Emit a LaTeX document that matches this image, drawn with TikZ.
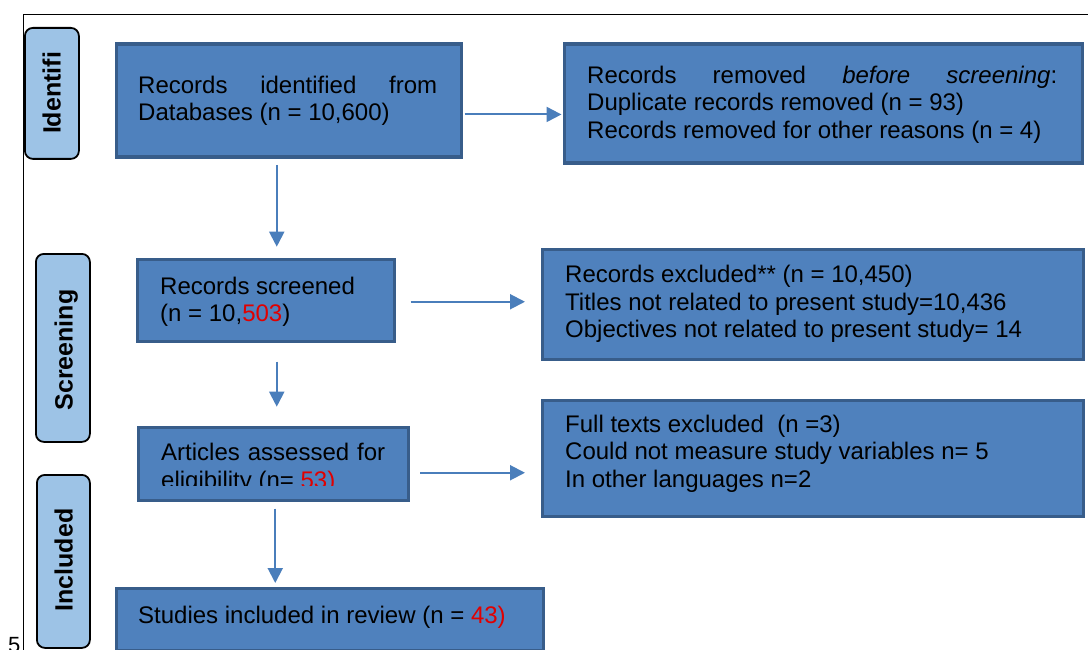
\documentclass[tikz,border=0pt]{standalone}
\usepackage{fontspec}
\setmainfont{Liberation Sans}
\usetikzlibrary{arrows.meta}
\definecolor{boxfill}{RGB}{79,129,189}
\definecolor{boxline}{RGB}{56,93,138}
\definecolor{sidefill}{RGB}{157,195,230}
\definecolor{arrowc}{RGB}{74,126,187}
\definecolor{numred}{RGB}{225,0,0}
\begin{document}
\begin{tikzpicture}[x=1pt,y=-1pt,
  mainbox/.style={draw=boxline, fill=boxfill, line width=3.5pt, rectangle, inner sep=0pt, anchor=north west},
  sidebox/.style={draw=black, fill=sidefill, line width=1.8pt, rounded corners=8pt, rectangle, inner sep=0pt, anchor=north west},
  boxtext/.style={anchor=base west, inner sep=0pt, align=left, font=\fontsize{24}{27.6}\selectfont},
  sidetext/.style={rotate=90, anchor=base, inner sep=0pt, font=\fontsize{25}{28}\selectfont\bfseries},
  flow/.style={draw=arrowc, line width=2pt, -{Triangle[length=15pt,width=15pt]}},
]
\useasboundingbox (0,0) rectangle (1088,650);
\clip (0,0) rectangle (1088,650);
\fill[white] (0,0) rectangle (1088,650);

% outer frame
\draw[black, line width=1pt] (23,652) -- (23,15) -- (1090,15);

% stage labels
\node[sidebox, minimum width=54pt, minimum height=131pt] (s1) at (24,27) {};
\node[sidebox, minimum width=54pt, minimum height=188pt] (s2) at (35,253) {};
\node[sidebox, minimum width=53pt, minimum height=173pt] (s3) at (36,474) {};
\node[sidetext] (s1t) at (60.5,93) {Identifi};
\node[sidetext] (s2t) at (72.5,350) {Screening};
\node[sidetext] (s3t) at (72.5,560) {Included};

% main boxes
\node[mainbox, minimum width=345pt, minimum height=113pt] (b1) at (114.5,42.5) {};
\node[mainbox, minimum width=518pt, minimum height=119pt] (b2) at (562.5,42.5) {};
\node[mainbox, minimum width=257pt, minimum height=82pt] (b3) at (135.5,257.5) {};
\node[mainbox, minimum width=541pt, minimum height=110pt] (b4) at (540.5,247.5) {};
\node[mainbox, minimum width=270pt, minimum height=73pt] (b5) at (136.5,425.5) {};
\node[mainbox, minimum width=541pt, minimum height=116pt] (b6) at (540.5,398.5) {};
\node[mainbox, minimum width=427pt, minimum height=62pt] (b7) at (114.5,586.5) {};

% texts (anchor = baseline of the last line)
\node[boxtext] (b1t) at (138,120.9) {\makebox[299pt][s]{Records identified from}\\Databases (n = 10,600)};
\node[boxtext] (b2t) at (587,138.5) {\makebox[470pt][s]{Records removed \textit{before} \textit{screening}:}\\Duplicate records removed (n = 93)\\Records removed for other reasons (n = 4)};
\node[boxtext] (b3t) at (160,321.6) {Records screened\\(n = 10,\textcolor{numred}{503})};
\node[boxtext] (b4t) at (565,337.9) {Records excluded** (n = 10,450)\\Titles not related to present study=10,436\\Objectives not related to present study= 14};
\begin{scope}
\clip (140,435) rectangle (405,485);
\node[boxtext] (b5t) at (161,488.3) {\makebox[224pt][s]{Articles assessed for}\\eligibility (n= \textcolor{numred}{53)}};
\end{scope}
\node[boxtext] (b6t) at (565,487.5) {Full texts excluded\ \ (n =3)\\Could not measure study variables n= 5\\In other languages n=2};
\node[boxtext] (b7t) at (138,623.3) {Studies included in review (n = \textcolor{numred}{43)}};

% page number fragment
\node[anchor=base west, inner sep=0pt, font=\fontsize{22}{26}\selectfont] (pg) at (8,652.5) {5};

% connectors
\coordinate (a1s) at ([yshift=-13.7pt]b1.east);
\draw[flow, shorten <=1.5pt, shorten >=1pt] (a1s) -- (a1s -| b2.west);
\coordinate (a2s) at ([xshift=-12pt]b1.south);
\draw[flow, shorten <=6pt, shorten >=10.8pt] (a2s) -- (a2s |- b3.north);
\coordinate (a3s) at ([yshift=-1.5pt]b3.east);
\draw[flow, shorten <=14.5pt, shorten >=15.5pt] (a3s) -- (a3s -| b4.west);
\coordinate (a4s) at ([xshift=11pt]b3.south);
\draw[flow, shorten <=18.5pt, shorten >=18.8pt] (a4s) -- (a4s |- b5.north);
\coordinate (a5s) at ([yshift=-9pt]b5.east);
\draw[flow, shorten <=10.2pt, shorten >=15.5pt] (a5s) -- (a5s -| b6.west);
\coordinate (a6s) at ([xshift=2pt]b5.south);
\draw[flow, shorten <=6.5pt, shorten >=3.5pt] (a6s) -- (a6s |- b7.north);
\end{tikzpicture}
\end{document}
